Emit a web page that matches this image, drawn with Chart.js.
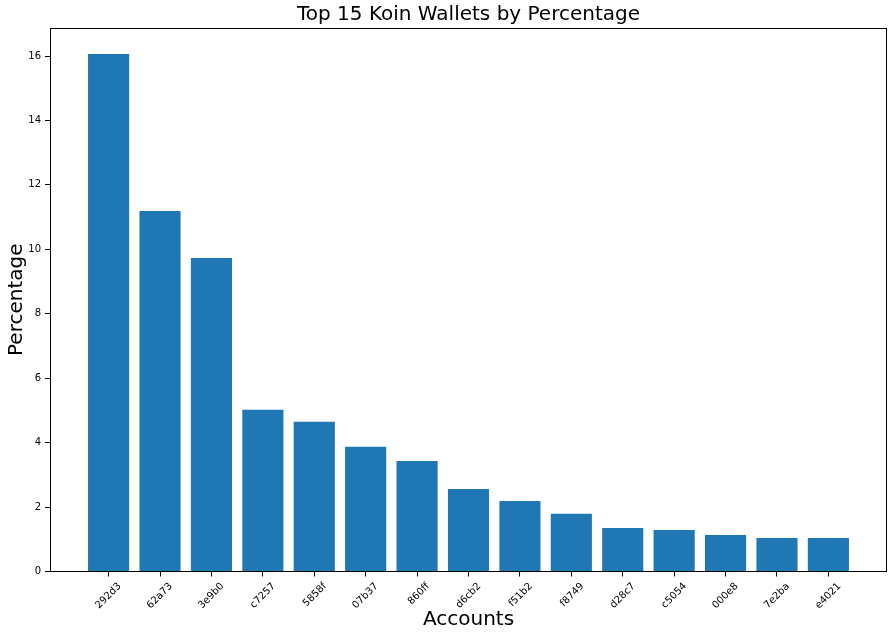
<!DOCTYPE html>
<html>
<head>
<meta charset="utf-8">
<script src="https://cdn.jsdelivr.net/npm/chart.js@4.4.0/dist/chart.umd.min.js"></script>
<style>
  html, body { margin: 0; padding: 0; background: #fff; }
  #wrap { width: 894px; height: 638px; }
</style>
</head>
<body>
<div id="wrap"><canvas id="chartWallets"></canvas></div>
<script>
// wallet ids (shortened) and their share
const accounts = ['292d3', '62a73', '3e9b0', 'c7257', '5858f', '07b37', '860ff', 'd6cb2',
  'f51b2', 'f8749', 'd28c7', 'c5054', '000e8', '7e2ba', 'e4021'];
const percentages = [16.06, 11.19, 9.73, 5.02, 4.65, 3.87, 3.43, 2.56,
  2.19, 1.79, 1.35, 1.29, 1.13, 1.04, 1.04];
const yTicks = [0, 2, 4, 6, 8, 10, 12, 14, 16];

Chart.defaults.font.family = "'DejaVu Sans', sans-serif";
Chart.defaults.color = '#000';

// spines on all four sides, like matplotlib
const frame = {
  id: 'frame',
  afterDraw(chart) {
    const { ctx, chartArea: a } = chart;
    ctx.save();
    ctx.strokeStyle = '#000';
    ctx.lineWidth = 1;
    ctx.strokeRect(Math.round(a.left) + 0.5, Math.round(a.top) + 0.5,
      Math.round(a.right - a.left) - 1, Math.round(a.bottom - a.top) - 1);
    ctx.restore();
  }
};

const ctx = document.getElementById('chartWallets');
new Chart(ctx, {
  type: 'bar',
  data: {
    datasets: [{
      label: 'Percentage',
      data: accounts.map((a, i) => ({ x: i, y: percentages[i] })),
      backgroundColor: '#1f77b4',
      borderWidth: 0,
      barPercentage: 0.8,
      categoryPercentage: 1
    }]
  },
  options: {
    responsive: true,
    maintainAspectRatio: false,
    animation: false,
    layout: { padding: { left: 0, right: 7, top: 0, bottom: 0 } },
    scales: {
      x: {
        type: 'linear',
        offset: false,
        min: -1.14,
        max: 15.14,
        afterBuildTicks: s => { s.ticks = accounts.map((a, i) => ({ value: i })); },
        afterFit: s => { s.height = 66.5; },
        grid: { offset: false, drawOnChartArea: false, drawTicks: true, tickLength: 5, tickColor: '#000' },
        border: { display: false },
        ticks: {
          autoSkip: false,
          minRotation: 45,
          maxRotation: 45,
          labelOffset: 11,
          padding: 4,
          font: { size: 10 },
          color: '#000',
          callback: v => accounts[v] ?? ''
        },
        title: { display: true, text: 'Accounts', font: { size: 20 }, color: '#000', padding: { top: 0, bottom: 6 } }
      },
      y: {
        min: 0,
        max: 16.87,
        afterBuildTicks: s => { s.ticks = yTicks.map(v => ({ value: v })); },
        afterFit: s => { s.width = 50; },
        grid: { drawOnChartArea: false, drawTicks: true, tickLength: 5, tickColor: '#000' },
        border: { display: false },
        ticks: { padding: 4, font: { size: 10 }, color: '#000' },
        title: { display: true, text: 'Percentage', font: { size: 20 }, color: '#000', padding: { top: 5, bottom: 0 } }
      }
    },
    plugins: {
      legend: { display: false },
      tooltip: { enabled: false },
      title: {
        display: true,
        fullSize: false,
        text: 'Top 15 Koin Wallets by Percentage',
        font: { size: 20, weight: 'normal' },
        color: '#000',
        padding: { top: 3, bottom: 1 }
      }
    }
  },
  plugins: [frame]
});
</script>
</body>
</html>
